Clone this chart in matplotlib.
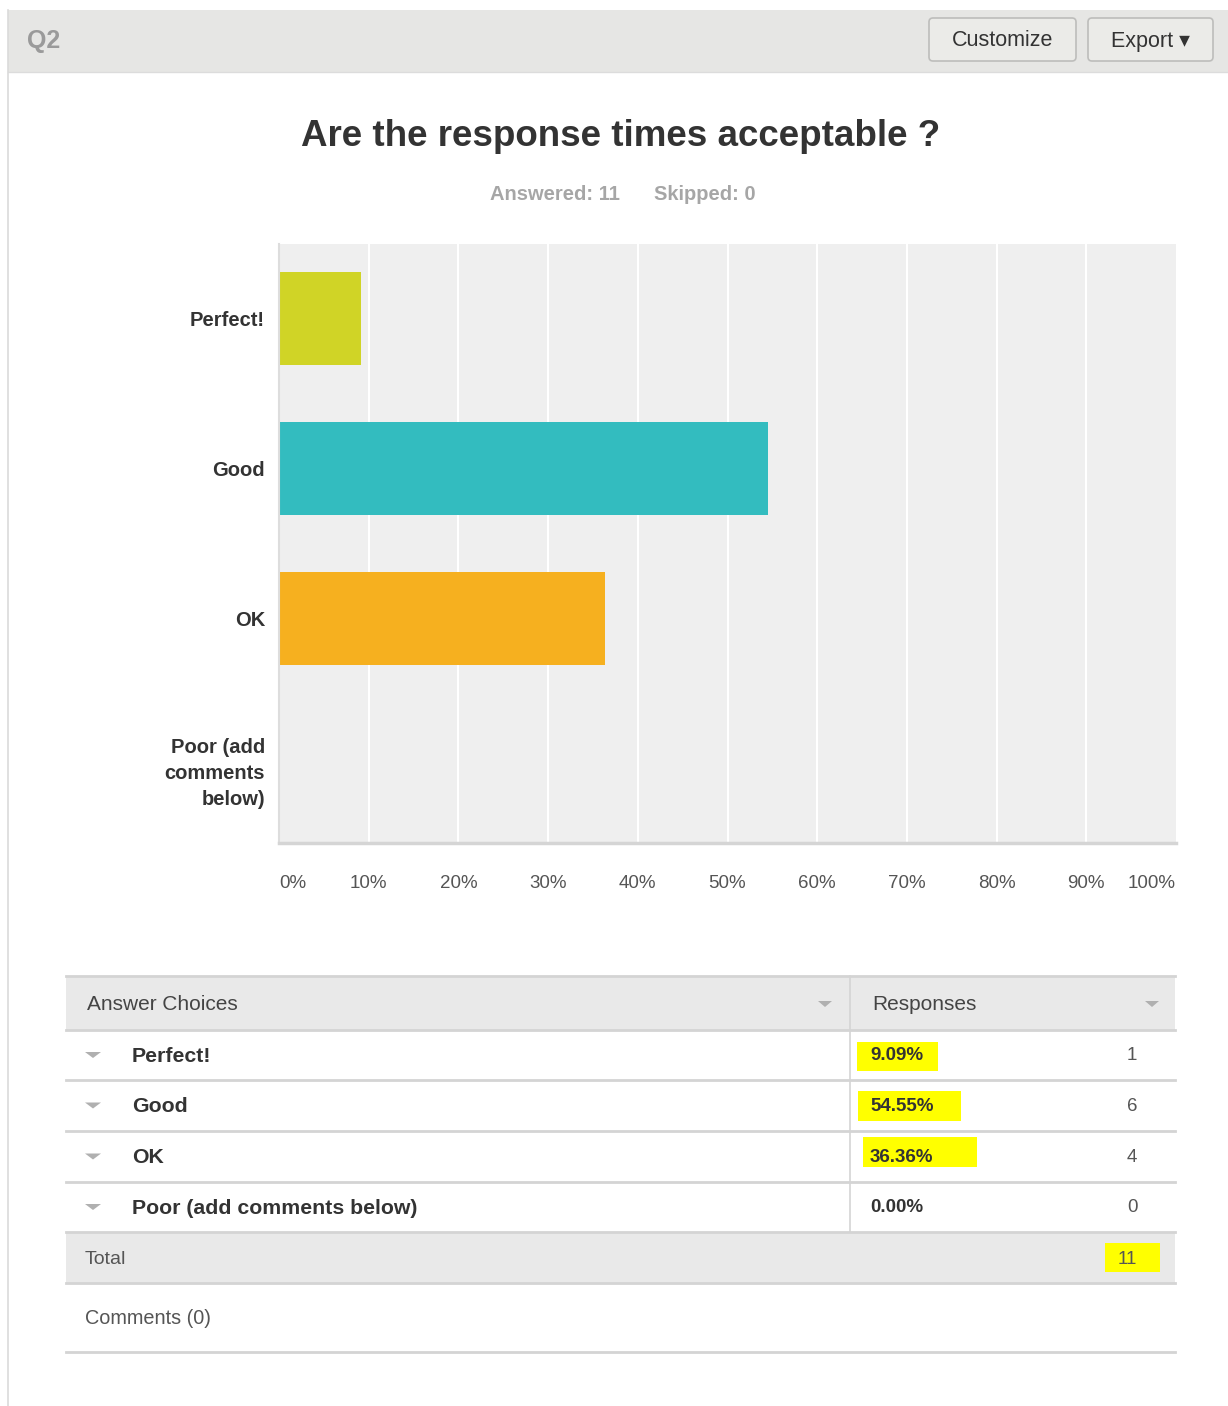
"""SurveyMonkey style result panel: Q2 response times."""

import numpy as np
import matplotlib
matplotlib.use("Agg")
import matplotlib.pyplot as plt
from matplotlib.patches import Rectangle, FancyBboxPatch, Polygon

plt.rcParams['font.family'] = ['Liberation Sans', 'DejaVu Sans']

# data
question_id = "Q2"
title = "Are the response times acceptable ?"
answered = 11
skipped = 0
choices = ["Perfect!", "Good", "OK", "Poor (add comments below)"]
axis_labels = ["Perfect!", "Good", "OK", "Poor (add\ncomments\nbelow)"]
percents = [9.09, 54.55, 36.36, 0.00]
counts = [1, 6, 4, 0]
bar_colors = ["#d0d426", "#33bcbf", "#f6b01f", "#e05a5a"]
xticks = np.arange(0, 101, 10)
highlighted = [True, True, True, False]

W, H = 1228, 1406
fig = plt.figure(figsize=(W / 100, H / 100), dpi=100)
fig.patch.set_facecolor("white")

# pixel-space overlay for the page furniture
bg = fig.add_axes([0, 0, 1, 1], zorder=0)
bg.set_xlim(0, W)
bg.set_ylim(H, 0)
bg.axis("off")

# header strip
bg.add_patch(Rectangle((8, 10), W - 8, 62, color="#e6e6e4", lw=0))
bg.plot([8, W], [72, 72], color="#dcdcdc", lw=1)
bg.plot([8, 8], [10, H], color="#dadada", lw=1.2)
bg.text(27, 41, question_id, fontsize=18, color="#9a9a9a", fontweight="bold",
        va="center", ha="left")
for x0, x1, lab in [(929, 1076, "Customize"), (1088, 1213, "Export \u25be")]:
    bg.add_patch(FancyBboxPatch((x0, 18), x1 - x0, 43,
                                boxstyle="round,pad=0,rounding_size=4",
                                fc="#ebebe8", ec="#bdbdbb", lw=1.2))
    bg.text((x0 + x1) / 2, 41, lab, fontsize=15.5, color="#333333",
            ha="center", va="center")

bg.text(621, 136, title, fontsize=26.5, fontweight="bold", color="#333333",
        ha="center", va="center")
bg.text(555, 195, "Answered: %d" % answered, fontsize=14.5, fontweight="bold",
        color="#a6a6a6", ha="center", va="center")
bg.text(705, 195, "Skipped: %d" % skipped, fontsize=14.5, fontweight="bold",
        color="#a6a6a6", ha="center", va="center")

# chart
ax_l, ax_t, ax_r, ax_b = 279, 244, 1176, 843
ax = fig.add_axes([ax_l / W, 1 - ax_b / H, (ax_r - ax_l) / W, (ax_b - ax_t) / H],
                  zorder=1)
ax.set_facecolor("#efefef")
y = np.arange(len(choices))
ax.barh(y, percents, height=0.62, color=bar_colors, zorder=2)
ax.set_xlim(0, 100)
ax.set_ylim(len(choices) - 0.5, -0.5)
for t in xticks[1:-1]:
    ax.axvline(t, color="white", lw=1.5, zorder=1)
ax.set_yticks(y)
ax.set_yticklabels(axis_labels, fontsize=14.5, color="#333333",
                   fontweight="bold", linespacing=1.48)
ax.set_xticks(xticks)
ax.set_xticklabels(["%d%%" % t for t in xticks], fontsize=13.5, color="#555555")
xl = ax.get_xticklabels()
xl[0].set_ha("left")
xl[-1].set_ha("right")
ax.tick_params(axis="both", length=0)
ax.tick_params(axis="x", pad=23)
ax.tick_params(axis="y", pad=10)
for s in ["top", "right"]:
    ax.spines[s].set_visible(False)
ax.spines["left"].set_color("#dddddd")
ax.spines["left"].set_linewidth(1.5)
ax.spines["bottom"].set_color("#d5d5d5")
ax.spines["bottom"].set_linewidth(2.5)

# table
tl, tr, col = 66, 1175, 850
row_edges = [976, 1030, 1080, 1131, 1182, 1232, 1283]
bg.add_patch(Rectangle((tl, 976), tr - tl, 54, color="#e9e9e9", lw=0))
bg.add_patch(Rectangle((tl, 1232), tr - tl, 51, color="#e9e9e9", lw=0))
for ye in row_edges:
    bg.plot([tl, tr], [ye, ye], color="#d4d4d4", lw=2)
bg.plot([tl, tr], [1352, 1352], color="#d4d4d4", lw=2)
bg.plot([col, col], [976, 1232], color="#d4d4d4", lw=1.2)


def down_tri(xc, yc, color="#b0b0b0", w=8, h=6):
    bg.add_patch(Polygon([(xc - w, yc - h / 2), (xc + w, yc - h / 2),
                          (xc, yc + h / 2)], closed=True, color=color, lw=0))


bg.text(87, 1004, "Answer Choices", fontsize=15, color="#444444", va="center")
bg.text(872, 1004, "Responses", fontsize=15, color="#444444", va="center")
down_tri(825, 1004, w=7, h=6)
down_tri(1152, 1004, w=7, h=6)

hl_boxes = [(857, 1042, 81, 29), (858, 1091, 103, 30), (863, 1137, 114, 30)]
for i, name in enumerate(choices):
    yc = (row_edges[i + 1] + row_edges[i + 2]) / 2
    down_tri(93, yc, w=8, h=6)
    bg.text(132, yc + 1, name, fontsize=15.3, color="#333333", va="center",
            fontweight="bold")
    if highlighted[i]:
        bx, by, bw, bh = hl_boxes[i]
        bg.add_patch(Rectangle((bx, by), bw, bh, color="#ffff00", lw=0))
    bg.text(870, yc + 1, "%.2f%%" % percents[i], fontsize=13.5,
            color="#333333", va="center", fontweight="bold")
    bg.text(1132, yc + 1, str(counts[i]), fontsize=13.5, color="#555555",
            va="center", ha="center")

bg.text(85, 1259, "Total", fontsize=14, color="#555555", va="center")
bg.add_patch(Rectangle((1105, 1243), 55, 29, color="#ffff00", lw=0))
bg.text(1127, 1259, str(sum(counts)), fontsize=13.5, color="#555555",
        va="center", ha="center")
bg.text(85, 1319, "Comments (0)", fontsize=14.3, color="#555555", va="center")

fig.savefig("out.png", dpi=100, facecolor="white")
